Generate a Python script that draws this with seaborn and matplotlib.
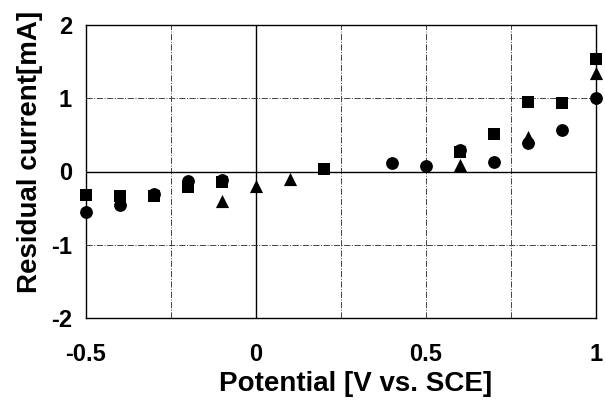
import matplotlib
matplotlib.use("Agg")
import matplotlib.pyplot as plt
import seaborn as sns
import pandas as pd

# --- data ---
sq_x = [-0.5, -0.4, -0.3, -0.2, -0.1, 0.2, 0.6, 0.7, 0.8, 0.9, 1.0]
sq_y = [-0.32, -0.33, -0.33, -0.21, -0.15, 0.04, 0.26, 0.51, 0.95, 0.93, 1.53]

ci_x = [-0.5, -0.4, -0.3, -0.2, -0.1, 0.4, 0.5, 0.6, 0.7, 0.8, 0.9, 1.0]
ci_y = [-0.55, -0.46, -0.31, -0.13, -0.11, 0.11, 0.07, 0.29, 0.13, 0.39, 0.56, 1.01]

tr_x = [-0.1, 0.0, 0.1, 0.6, 0.8, 1.0]
tr_y = [-0.40, -0.20, -0.10, 0.09, 0.47, 1.35]

x_ticks = [-0.5, 0, 0.5, 1]
x_tick_labels = ["-0.5", "0", "0.5", "1"]
y_ticks = [-2, -1, 0, 1, 2]
y_tick_labels = ["-2", "-1", "0", "1", "2"]
x_label = "Potential [V vs. SCE]"
y_label = "Residual current[mA]"

sns.set_theme(style="white")
plt.rcParams["font.family"] = ["Liberation Sans", "DejaVu Sans"]
plt.rcParams["font.weight"] = "bold"

fig = plt.figure(figsize=(6.05, 4.0), dpi=100)
ax = fig.add_axes([0.142, 0.205, 0.843, 0.7325])

# grid (every 0.25 in x, 1 in y), dash-dot
for gx in [-0.25, 0.25, 0.5, 0.75]:
    ax.axvline(gx, color="#444444", lw=0.7, ls="-.", zorder=1)
for gy in [-1, 1]:
    ax.axhline(gy, color="#444444", lw=0.7, ls="-.", zorder=1)
ax.axvline(0, color="black", lw=1.0, zorder=1)
ax.axhline(0, color="black", lw=1.0, zorder=1)

df_sq = pd.DataFrame({"x": sq_x, "y": sq_y})
df_ci = pd.DataFrame({"x": ci_x, "y": ci_y})
df_tr = pd.DataFrame({"x": tr_x, "y": tr_y})

sns.scatterplot(data=df_ci, x="x", y="y", marker="o", color="black", s=85,
                linewidth=0, ax=ax, zorder=3, clip_on=False)
sns.scatterplot(data=df_tr, x="x", y="y", marker="^", color="black", s=90,
                linewidth=0, ax=ax, zorder=4, clip_on=False)
sns.scatterplot(data=df_sq, x="x", y="y", marker="s", color="black", s=80,
                linewidth=0, ax=ax, zorder=5, clip_on=False)

ax.set_xlim(-0.5, 1.0)
ax.set_ylim(-2, 2)
ax.set_xticks(x_ticks)
ax.set_xticklabels(x_tick_labels)
ax.set_yticks(y_ticks)
ax.set_yticklabels(y_tick_labels)
ax.tick_params(axis="x", length=0, pad=18, labelsize=17)
ax.tick_params(axis="y", length=0, pad=10, labelsize=17)
for lab in ax.get_xticklabels() + ax.get_yticklabels():
    lab.set_fontweight("bold")
    lab.set_color("black")

for sp in ax.spines.values():
    sp.set_color("black")
    sp.set_linewidth(1.0)

ax.set_xlabel(x_label, fontsize=20, fontweight="bold", color="black")
ax.set_ylabel(y_label, fontsize=20, fontweight="bold", color="black")
ax.xaxis.label.set_verticalalignment("center")
ax.yaxis.label.set_verticalalignment("center")
ax.xaxis.set_label_coords(0.528, -0.225)
ax.yaxis.set_label_coords(-0.11, 0.567)

fig.savefig("out.png", dpi=100)
